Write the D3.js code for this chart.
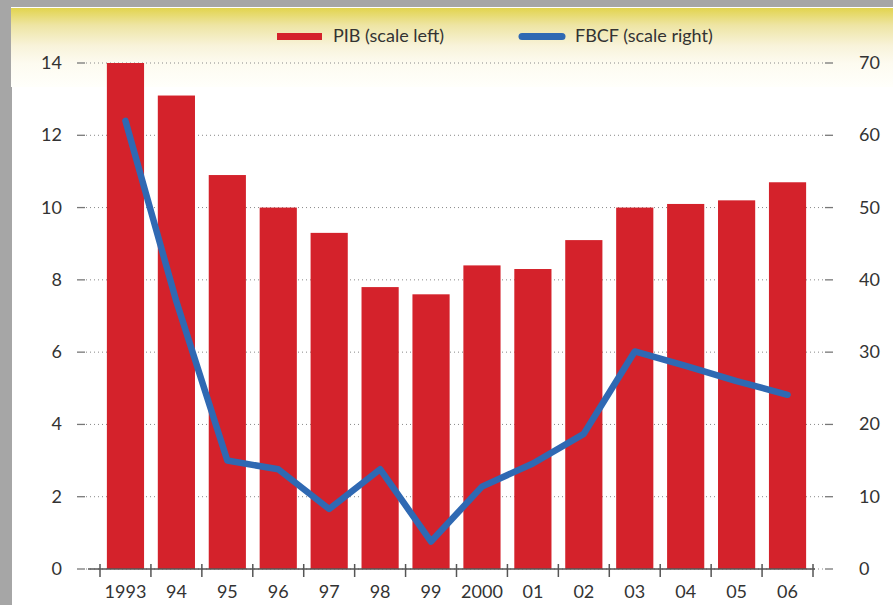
<!DOCTYPE html>
<html>
<head>
<meta charset="utf-8">
<script src="https://cdn.jsdelivr.net/npm/d3@7"></script>
<style>
  html, body { margin: 0; padding: 0; background: #a6a6a6; }
  svg { display: block; }
  text { font-family: Lato, "Open Sans", sans-serif; fill: #333; }
</style>
</head>
<body>
<svg id="chart" width="893" height="605"></svg>
<script>
// data
var years = ['1993', '94', '95', '96', '97', '98', '99', '2000', '01', '02', '03', '04', '05', '06'];
var pib = [14.0, 13.1, 10.9, 10.0, 9.3, 7.8, 7.6, 8.4, 8.3, 9.1, 10.0, 10.1, 10.2, 10.7];
var fbcf = [62, 37, 15, 13.8, 8.3, 13.8, 3.8, 11.4, 14.6, 18.7, 30.1, 28.1, 26.0, 24.1];
var leftTicks = [0, 2, 4, 6, 8, 10, 12, 14];
var rightTicks = [0, 10, 20, 30, 40, 50, 60, 70];
var legendLabels = ['PIB (scale left)', 'FBCF (scale right)'];

var red = '#d4222b', blue = '#2f69b3';

var svg = d3.select('#chart');

// background: gray frame, cream header band, white plot
var defs = svg.append('defs');
var grad = defs.append('linearGradient')
    .attr('id', 'cream')
    .attr('x1', 0).attr('y1', 0).attr('x2', 0).attr('y2', 1);
grad.append('stop').attr('offset', '0%').attr('stop-color', '#e2d44e');
grad.append('stop').attr('offset', '22%').attr('stop-color', '#eee5a4');
grad.append('stop').attr('offset', '48%').attr('stop-color', '#f8f3da');
grad.append('stop').attr('offset', '70%').attr('stop-color', '#fdfbf0');
grad.append('stop').attr('offset', '100%').attr('stop-color', '#fffffb');

svg.append('rect').attr('x', 11).attr('y', 7).attr('width', 882).attr('height', 1)
    .attr('fill', '#fff');
svg.append('rect').attr('x', 11).attr('y', 8).attr('width', 882).attr('height', 79)
    .attr('fill', 'url(#cream)');
svg.append('rect').attr('x', 12).attr('y', 87).attr('width', 881).attr('height', 518)
    .attr('fill', '#fff');

// scales
var x = d3.scaleBand()
    .domain(years)
    .range([100, 813])
    .paddingInner(0.27)
    .paddingOuter(0.135);

var yL = d3.scaleLinear().domain([0, 14]).range([569, 63]);
var yR = d3.scaleLinear().domain([0, 70]).range([569, 63]);

// dotted grid + small dashes
var grid = svg.append('g');
grid.selectAll('.gl')
    .data(leftTicks)
    .enter().append('line')
    .attr('x1', 86).attr('x2', 825)
    .attr('y1', function (d) { return yL(d); })
    .attr('y2', function (d) { return yL(d); })
    .attr('stroke', '#888')
    .attr('stroke-width', 1)
    .attr('stroke-dasharray', '1,3');
grid.selectAll('.dl')
    .data(leftTicks)
    .enter().append('line')
    .attr('x1', 77).attr('x2', 85)
    .attr('y1', function (d) { return yL(d); })
    .attr('y2', function (d) { return yL(d); })
    .attr('stroke', '#777').attr('stroke-width', 1.3);
grid.selectAll('.dr')
    .data(leftTicks)
    .enter().append('line')
    .attr('x1', 825).attr('x2', 833)
    .attr('y1', function (d) { return yL(d); })
    .attr('y2', function (d) { return yL(d); })
    .attr('stroke', '#777').attr('stroke-width', 1.3);

// bars
svg.append('g').selectAll('rect')
    .data(pib)
    .enter().append('rect')
    .attr('x', function (d, i) { return x(years[i]); })
    .attr('width', x.bandwidth())
    .attr('y', function (d) { return yL(d); })
    .attr('height', function (d) { return yL(0) - yL(d); })
    .attr('fill', red);

// baseline + category ticks
svg.append('line')
    .attr('x1', 88).attr('x2', 815)
    .attr('y1', yL(0)).attr('y2', yL(0))
    .attr('stroke', '#555').attr('stroke-width', 1.5);

var bounds = years.map(function (y) { return x(y) - x.step() * x.paddingInner() / 2; });
bounds.push(813);
svg.append('g').selectAll('line')
    .data(bounds)
    .enter().append('line')
    .attr('x1', function (d) { return d; })
    .attr('x2', function (d) { return d; })
    .attr('y1', 564).attr('y2', 577)
    .attr('stroke', '#555').attr('stroke-width', 1.5);

// line
var line = d3.line()
    .x(function (d, i) { return x(years[i]) + x.bandwidth() / 2; })
    .y(function (d) { return yR(d); });

svg.append('path')
    .datum(fbcf)
    .attr('d', line)
    .attr('fill', 'none')
    .attr('stroke', blue)
    .attr('stroke-width', 6.5)
    .attr('stroke-linejoin', 'round')
    .attr('stroke-linecap', 'round');

// axis labels
svg.append('g').selectAll('text')
    .data(leftTicks)
    .enter().append('text')
    .attr('x', 62)
    .attr('y', function (d) { return yL(d) + 6; })
    .attr('text-anchor', 'end')
    .style('font-size', '18px')
    .text(function (d) { return d; });

svg.append('g').selectAll('text')
    .data(rightTicks)
    .enter().append('text')
    .attr('x', 859)
    .attr('y', function (d) { return yR(d) + 6; })
    .style('font-size', '18px')
    .text(function (d) { return d; });

svg.append('g').selectAll('text')
    .data(years)
    .enter().append('text')
    .attr('x', function (d) { return x(d) + x.bandwidth() / 2; })
    .attr('y', 598)
    .attr('text-anchor', 'middle')
    .style('font-size', '18px')
    .text(function (d) { return d; });

// legend
svg.append('rect')
    .attr('x', 277).attr('y', 33).attr('width', 45).attr('height', 7)
    .attr('fill', red);
svg.append('text')
    .attr('x', 333).attr('y', 42)
    .style('font-size', '18px')
    .text(legendLabels[0]);
svg.append('line')
    .attr('x1', 522).attr('x2', 562)
    .attr('y1', 36.5).attr('y2', 36.5)
    .attr('stroke', blue).attr('stroke-width', 7)
    .attr('stroke-linecap', 'round');
svg.append('text')
    .attr('x', 575).attr('y', 42)
    .style('font-size', '18px')
    .text(legendLabels[1]);
</script>
</body>
</html>
